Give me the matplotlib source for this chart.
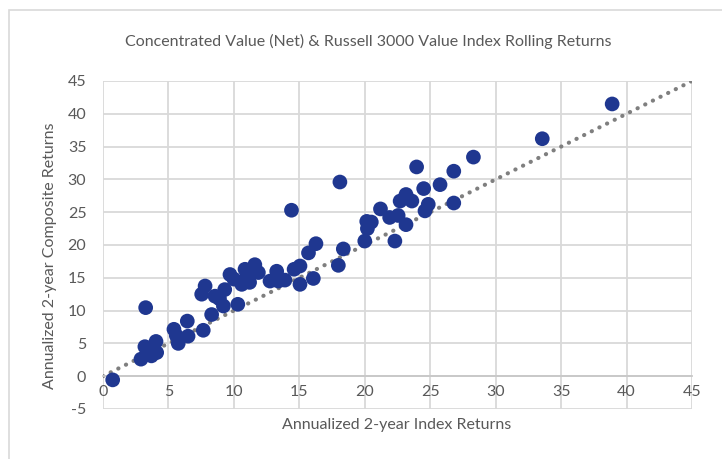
import matplotlib
matplotlib.use("Agg")
import matplotlib.pyplot as plt
from matplotlib.patches import Rectangle

plt.rcParams['font.family'] = ['Lato', 'DejaVu Sans']
plt.rcParams['axes.unicode_minus'] = False

index_returns = [0.74, 3.26, 2.9, 3.2, 3.7, 4.05, 4.1, 5.42, 5.6, 5.75, 6.44, 6.5, 7.66, 7.8, 7.54,
                 8.3, 8.56, 9.2, 9.3, 9.7, 10.3, 10.85, 10.6, 11.2, 11.6, 11.87, 12.76, 13.27, 13.4,
                 13.9, 14.6, 15.05, 15.05, 15.7, 16.27, 16.07, 18.36, 17.98, 14.4, 18.1, 20.0, 20.15,
                 20.5, 20.2, 21.2, 21.9, 22.55, 23.15, 22.3, 22.7, 23.15, 23.6, 24.85, 24.6, 26.8,
                 23.96, 24.5, 25.75, 26.8, 28.3, 33.56, 38.9, 10.0, 8.9, 11.0]
composite_returns = [-0.56, 10.45, 2.6, 4.5, 3.1, 5.3, 3.6, 7.15, 6.2, 5.0, 8.4, 6.1, 7.0, 13.75, 12.5,
                     9.4, 12.2, 10.7, 13.2, 15.5, 10.96, 16.3, 14.0, 14.3, 17.0, 15.8, 14.5, 16.0, 14.5,
                     14.65, 16.3, 16.8, 14.0, 18.8, 20.2, 14.9, 19.4, 16.9, 25.3, 29.6, 20.6, 23.6,
                     23.5, 22.5, 25.5, 24.2, 24.5, 23.1, 20.6, 26.7, 27.7, 26.7, 26.2, 25.2, 26.4,
                     31.9, 28.6, 29.2, 31.25, 33.4, 36.2, 41.5, 14.8, 11.8, 15.2]
ref_line = [0, 45]

x_ticks = list(range(0, 50, 5))
y_ticks = list(range(-5, 50, 5))

fig = plt.figure(figsize=(7.22, 4.59), dpi=100)
fig.patches.append(Rectangle((9/722, -0.1), 2.0, 1 - 10/459 + 0.1, transform=fig.transFigure,
                             fill=False, edgecolor='#D9D9D9', linewidth=1.2, zorder=0))
ax = fig.add_axes([103/722, 1 - 409/459, (692 - 103)/722, (409 - 81)/459])

grid_c = '#D9D9D9'
ax.set_xlim(0, 45)
ax.set_ylim(-5, 45)
ax.set_xticks(x_ticks)
ax.set_yticks(y_ticks)
ax.grid(True, color=grid_c, linewidth=1.3)
ax.set_axisbelow(True)
for s in ['top', 'right', 'left']:
    ax.spines[s].set_visible(False)
ax.spines['bottom'].set_position(('data', 0))
ax.spines['bottom'].set_color('#C8C8C8')
ax.spines['bottom'].set_linewidth(1.3)
ax.tick_params(axis='both', length=0, colors='#595959', labelsize=11.5)
ax.tick_params(axis='x', pad=6)
ax.tick_params(axis='y', pad=12)

ax.plot(ref_line, ref_line, linestyle=(0, (0.05, 2.0)), color='#7F7F7F', linewidth=3.0,
        dash_capstyle='round', zorder=2)
ax.scatter(index_returns, composite_returns, s=112, color='#1F3790', edgecolors='none', zorder=3)

fig.text(368/722, 1 - 41/459, 'Concentrated Value (Net) & Russell 3000 Value Index Rolling Returns',
         ha='center', va='center', fontsize=11.5, color='#595959')
fig.text(397/722, 1 - 425/459, 'Annualized 2-year Index Returns', ha='center', va='center',
         fontsize=11.5, color='#595959')
fig.text(50/722, 1 - 256/459, 'Annualized 2-year Composite Returns', ha='center', va='center',
         rotation=90, fontsize=11.5, color='#595959')

fig.savefig('out.png', dpi=100)
